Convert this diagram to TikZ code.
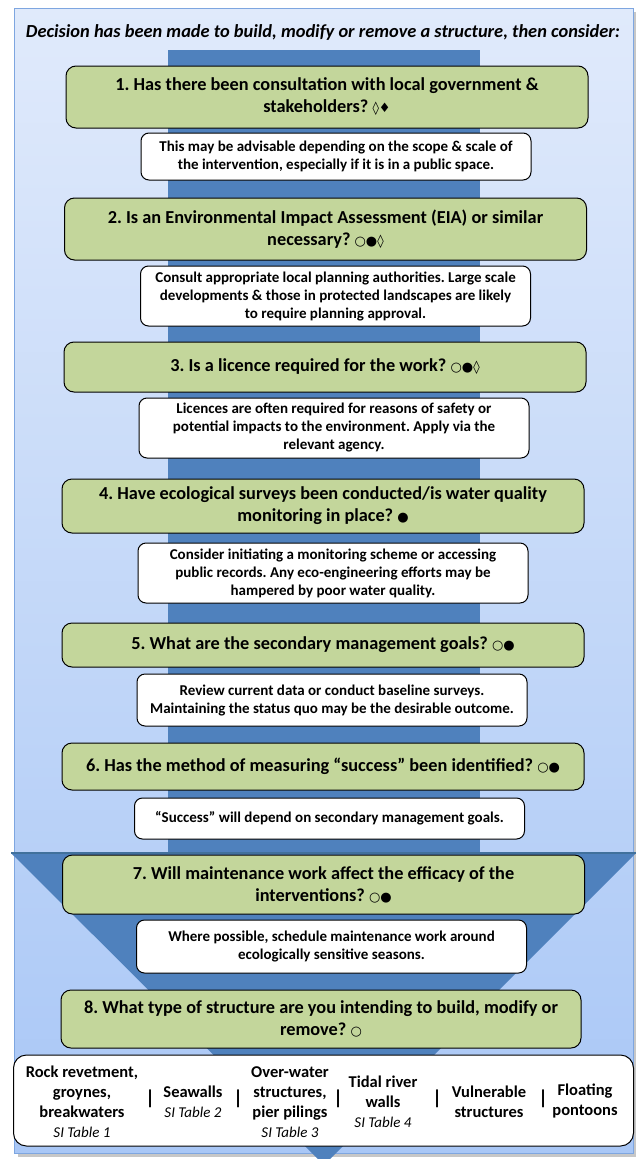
\documentclass[tikz,border=0pt]{standalone}
\usepackage{fontspec}
\setmainfont{Carlito}
\newfontfamily\symfont{DejaVu Sans}
\usepackage{xcolor}
\usetikzlibrary{positioning}
\definecolor{bgtop}{HTML}{E0EAFB}
\definecolor{bgbottom}{HTML}{A9C7F6}
\definecolor{bgedge}{HTML}{7EA6E0}
\definecolor{colblue}{HTML}{4F81BD}
\definecolor{coledge}{HTML}{41719C}
\definecolor{qgreen}{HTML}{C3D69B}
\newcommand{\questionfont}{\frenchspacing\bfseries\fontsize{18.3}{22}\selectfont}
\newcommand{\notefont}{\frenchspacing\bfseries\fontsize{15}{18}\selectfont}
\newcommand{\itemfont}{\bfseries\fontsize{16.5}{20}\selectfont}
\newcommand{\tablefont}{\mdseries\itshape\fontsize{15}{20}\selectfont}
\newcommand{\symb}[1]{{\symfont\mdseries\fontsize{13}{13}\selectfont #1}}

\begin{document}
\begin{tikzpicture}[x=1pt, y=-1pt,
    question/.style={draw=black, line width=1pt, fill=qgreen, rounded corners=10pt, minimum width=522pt, align=center, font=\questionfont},
    note/.style={draw=black, line width=1pt, fill=white, rounded corners=8pt, minimum width=390pt, align=center, font=\notefont},
    item/.style={align=center, font=\itemfont},
    bar/.style={font=\bfseries\fontsize{20}{20}\selectfont, inner sep=0pt}]
\useasboundingbox (0,0) rectangle (636,1159);

\fill[black!22] (18,12) rectangle (637,1157);
\shade[top color=bgtop, bottom color=bgbottom] (14,8) rectangle (633,1153);
\draw[bgedge, line width=1pt] (14,8) rectangle (633,1153);

\node[font=\frenchspacing\bfseries\itshape\fontsize{18.4}{20}\selectfont] (title) at (323, 32) {Decision has been made to build, modify or remove a structure, then consider:};

\fill[colblue] (168,50) rectangle (480,853);
\fill[colblue] (11,853) -- (636,853) -- (324,1165) -- cycle;
\draw[coledge, line width=1.2pt] (11,853) -- (636,853);

\node[question, minimum height=62pt] (q1) at (327, 97) {1. Has there been consultation with local government \&\\ stakeholders? \symb{◊♦}};
\node[note, minimum height=47pt] (n1) at (336, 156.5) {This may be advisable depending on the scope \& scale of\\ the intervention, especially if it is in a public space.};

\node[question, minimum height=62pt] (q2) at (325.5, 229) {2. Is an Environmental Impact Assessment (EIA) or similar\\ necessary? \symb{○●◊}};
\node[note, minimum height=60pt] (n2) at (335.5, 296) {Consult appropriate local planning authorities. Large scale\\ developments \& those in protected landscapes are likely\\ to require planning approval.};

\node[question, minimum height=50pt] (q3) at (325, 367) {3. Is a licence required for the work? \symb{○●◊}};
\node[note, minimum height=60pt] (n3) at (334, 428) {Licences are often required for reasons of safety or\\ potential impacts to the environment. Apply via the\\ relevant agency.};

\node[question, minimum height=54pt] (q4) at (323, 506) {4. Have ecological surveys been conducted/is water quality\\ monitoring in place? \symb{●}};
\node[note, minimum height=60pt] (n4) at (333, 573) {Consider initiating a monitoring scheme or accessing\\ public records. Any eco-engineering efforts may be\\ hampered by poor water quality.};

\node[question, minimum height=44pt] (q5) at (323, 645) {5. What are the secondary management goals? \symb{○●}};
\node[note, minimum height=52pt] (n5) at (332, 700) {Review current data or conduct baseline surveys.\\ Maintaining the status quo may be the desirable outcome.};

\node[question, minimum height=47pt] (q6) at (323, 766.5) {6. Has the method of measuring “success” been identified? \symb{○●}};
\node[note, minimum height=41pt] (n6) at (329.5, 818.5) {“Success” will depend on secondary management goals.};

\node[question, minimum height=59pt] (q7) at (323.5, 884.5) {7. Will maintenance work affect the efficacy of the\\ interventions? \symb{○●}};
\node[note, minimum height=53pt] (n7) at (331.5, 946.5) {Where possible, schedule maintenance work around\\ ecologically sensitive seasons.};

\node[question, minimum height=58pt, minimum width=520pt] (q8) at (321, 1019) {8. What type of structure are you intending to build, modify or\\ remove? \symb{○}};

\node[draw=black, line width=1pt, fill=white, rounded corners=13pt, minimum width=620pt, minimum height=91pt] (types) at (323.5, 1100.5) {};
\node[item] (rock) at (82, 1102) {Rock revetment,\\ groynes,\\ breakwaters\\ {\tablefont SI Table 1}};
\node[bar] (bar1) at (150, 1099) {|};
\node[item] (seawalls) at (193, 1102) {Seawalls\\ {\tablefont SI Table 2}};
\node[bar] (bar2) at (238, 1099) {|};
\node[item] (overwater) at (290, 1102) {Over-water\\ structures,\\ pier pilings\\ {\tablefont SI Table 3}};
\node[bar] (bar3) at (338, 1099) {|};
\node[item] (tidal) at (383, 1102) {Tidal river\\ walls\\ {\tablefont SI Table 4}};
\node[bar] (bar4) at (437, 1099) {|};
\node[item] (vulnerable) at (489, 1102) {Vulnerable\\ structures};
\node[bar] (bar5) at (543, 1099) {|};
\node[item] (floating) at (585, 1101) {Floating\\ pontoons};
\end{tikzpicture}
\end{document}
